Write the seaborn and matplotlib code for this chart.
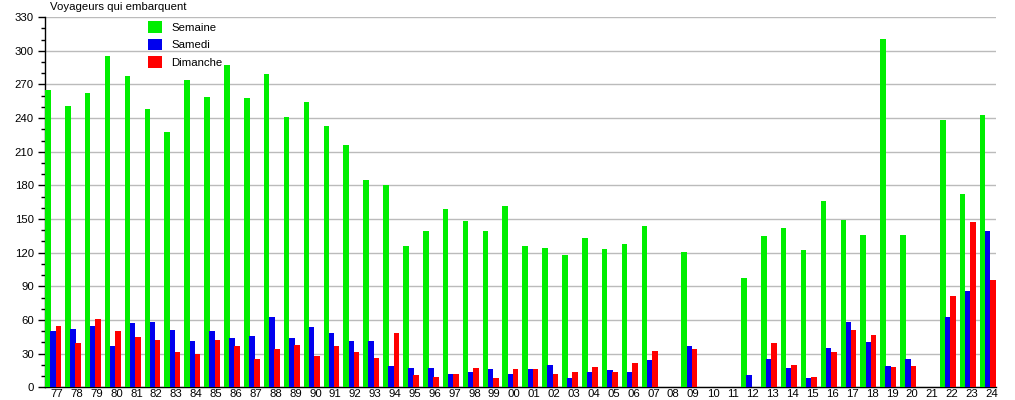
import numpy as np
import pandas as pd
import matplotlib
matplotlib.use('Agg')
import matplotlib.pyplot as plt
import seaborn as sns
from matplotlib.patches import Patch
from matplotlib.ticker import MultipleLocator

# 年份标签（77 -> 24）
annees = ['77', '78', '79', '80', '81', '82', '83', '84', '85', '86', '87', '88',
          '89', '90', '91', '92', '93', '94', '95', '96', '97', '98', '99', '00',
          '01', '02', '03', '04', '05', '06', '07', '08', '09', '10', '11', '12',
          '13', '14', '15', '16', '17', '18', '19', '20', '21', '22', '23', '24']

semaine = [265, 251, 262, 295, 278, 248, 228, 274, 259, 287, 258, 279,
           241, 254, 233, 216, 185, 180, 126, 139, 159, 148, 139, 162,
           126, 124, 118, 133, 123, 128, 144, 0, 121, 0, 0, 97,
           135, 142, 122, 166, 149, 136, 311, 136, 0, 238, 172, 243]

samedi = [50, 52, 55, 37, 57, 58, 51, 41, 50, 44, 46, 63,
          44, 54, 48, 41, 41, 19, 17, 17, 12, 14, 16, 12,
          16, 20, 8, 14, 15, 14, 24, 0, 37, 0, 0, 11,
          25, 17, 8, 35, 58, 40, 19, 25, 0, 63, 86, 139]

dimanche = [55, 39, 61, 50, 45, 42, 31, 30, 42, 37, 25, 34,
            38, 28, 37, 31, 26, 48, 11, 9, 12, 17, 8, 16,
            16, 12, 14, 18, 14, 22, 32, 0, 34, 0, 0, 0,
            39, 20, 9, 31, 51, 47, 18, 19, 0, 81, 147, 96]

series = ['Semaine', 'Samedi', 'Dimanche']
couleurs = {'Semaine': '#00ee00', 'Samedi': '#0000ee', 'Dimanche': '#ff0000'}

# 转成长表给seaborn用
df = pd.DataFrame({'annee': annees * 3,
                   'serie': np.repeat(series, len(annees)),
                   'valeur': semaine + samedi + dimanche})

plt.rcParams['font.family'] = ['Liberation Sans', 'DejaVu Sans']

fig = plt.figure(figsize=(10.15, 4.0), dpi=100)
ax = fig.add_axes([0.0443, 0.032, 0.937, 0.925])

sns.barplot(data=df, x='annee', y='valeur', hue='serie', hue_order=series,
            order=annees, palette=couleurs, width=0.78, saturation=1,
            legend=False, ax=ax, zorder=3)

# 柱子稍微加宽，让相邻柱子略有重叠（参考图就是这样）
for p in ax.patches:
    p.set_width(0.28)

# 坐标轴
ax.set_ylim(0, 330)
ax.set_xlim(-0.40, 47.43)
ax.yaxis.set_major_locator(MultipleLocator(30))
ax.yaxis.set_minor_locator(MultipleLocator(10))
ax.set_xticks(np.arange(len(annees)) + 0.2)
ax.set_xticklabels(annees)
ax.set_xlabel('')
ax.set_ylabel('')
ax.tick_params(axis='x', length=0, pad=1.5, labelsize=8.2)
ax.tick_params(axis='y', which='major', length=5, width=1, pad=3, labelsize=8.2)
ax.tick_params(axis='y', which='minor', length=3, width=1)
ax.grid(axis='y', which='major', color='#bbbbbb', linewidth=1, zorder=0)
ax.set_axisbelow(True)
for s in ['top', 'right']:
    ax.spines[s].set_visible(False)
for s in ['left', 'bottom']:
    ax.spines[s].set_linewidth(1)

# 标题
fig.text(0.049, 0.982, 'Voyageurs qui embarquent', fontsize=8.2, va='center', ha='left')

# 图例（无边框，放在左上角）
handles = [Patch(facecolor=couleurs[s], edgecolor='none') for s in series]
fig.legend(handles, series, loc='upper left', bbox_to_anchor=(0.1458, 0.947),
           frameon=False, fontsize=8.2, handlelength=1.2, handleheight=1.2,
           handletextpad=0.85, labelspacing=0.52, borderpad=0, borderaxespad=0)

plt.savefig('out.png', dpi=100)
